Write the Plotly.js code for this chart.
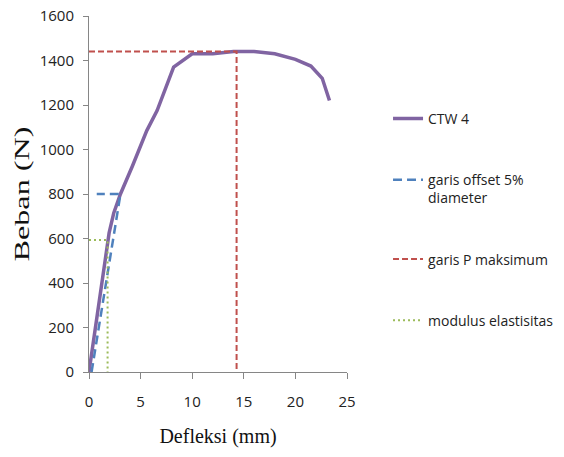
<!DOCTYPE html>
<html>
<head>
<meta charset="utf-8">
<script src="https://cdn.plot.ly/plotly-3.0.1.min.js"></script>
<style>html,body{margin:0;padding:0;background:#fff;}#chart{width:564px;height:457px;}</style>
</head>
<body>
<div id="chart"></div>
<script>
// CTW 4 load-deflection curve
var ctwX = [0, 0.15, 0.6, 1.0, 1.3, 1.6, 1.95, 2.4, 3.05, 4.2, 5.6, 6.6, 8.2, 10.0, 12.0, 14.0, 16.0, 18.0, 20.0, 21.5, 22.6, 23.3];
var ctwY = [0, 50, 190, 310, 430, 530, 625, 715, 800, 925, 1085, 1175, 1370, 1430, 1430, 1440, 1440, 1430, 1405, 1375, 1320, 1220];
// garis offset 5% diameter
var offX = [0.25, 3.05, 0.75];
var offY = [0, 800, 800];
// garis P maksimum
var pmaxX = [0, 14.3, 14.3];
var pmaxY = [1440, 1440, 0];
// modulus elastisitas
var modX = [0, 1.8, 1.8];
var modY = [593, 593, 0];

var names = ["CTW 4", "garis offset 5%<br>diameter", "garis P maksimum", "modulus elastisitas"];

var traces = [
  {x: ctwX, y: ctwY, name: names[0], mode: "lines", line: {color: "#8064a2", width: 3.5}, legendgroup: "a"},
  {x: offX, y: offY, name: names[1], mode: "lines", line: {color: "#4f81bd", width: 2.5, dash: "9px,5px"}, legendgroup: "b"},
  {x: pmaxX, y: pmaxY, name: names[2], mode: "lines", line: {color: "#c0504d", width: 2, dash: "6px,3px"}, legendgroup: "c"},
  {x: modX, y: modY, name: names[3], mode: "lines", line: {color: "#9bbb59", width: 2, dash: "2px,3px"}, legendgroup: "d"}
];

var tickFont = {family: "Open Sans, sans-serif", size: 15, color: "#222"};

var layout = {
  width: 564, height: 457,
  margin: {l: 89, r: 217, t: 16, b: 85},
  paper_bgcolor: "#fff", plot_bgcolor: "#fff",
  showlegend: true,
  legend: {
    x: 0.688, xanchor: "left", y: 0.756, yanchor: "top",
    xref: "container", yref: "paper",
    valign: "top",
    font: {family: "Open Sans, sans-serif", size: 14, color: "#222"},
    tracegroupgap: 40,
    bgcolor: "rgba(0,0,0,0)"
  },
  xaxis: {
    range: [0, 25], dtick: 5, tick0: 0,
    showgrid: false, zeroline: false,
    showline: true, linecolor: "#868686", linewidth: 1,
    ticks: "outside", ticklen: 6, tickcolor: "#868686",
    ticklabelstandoff: 10,
    tickfont: tickFont,
    title: {text: "Defleksi (mm)", font: {family: "Liberation Serif, Times New Roman, serif", size: 20, color: "#111"}, standoff: 18}
  },
  yaxis: {
    range: [0, 1600], dtick: 200, tick0: 0,
    showgrid: false, zeroline: false,
    showline: true, linecolor: "#868686", linewidth: 1,
    ticks: "outside", ticklen: 5, tickcolor: "#868686",
    ticklabelstandoff: 6,
    tickfont: tickFont,
    title: {text: "Beban (N)", font: {family: "Liberation Serif, Times New Roman, serif", size: 22, color: "#111"}, standoff: 3}
  }
};

Plotly.newPlot("chart", traces, layout, {displayModeBar: false, staticPlot: true}).then(function (gd) {
  // widen the y-axis title along its baseline, as in the reference
  var t = gd.querySelector(".ytitle");
  if (t) {
    var x = parseFloat(t.getAttribute("x")), y = parseFloat(t.getAttribute("y"));
    var w = t.getBBox().width;
    var s = 135 / w;
    if (isFinite(s) && s > 1 && s < 2) {
      t.setAttribute("transform", "rotate(-90," + x + "," + y + ") translate(" + x + "," + y + ") scale(" + s + ",1) translate(" + (-x) + "," + (-y) + ")");
    }
  }
});
</script>
</body>
</html>
